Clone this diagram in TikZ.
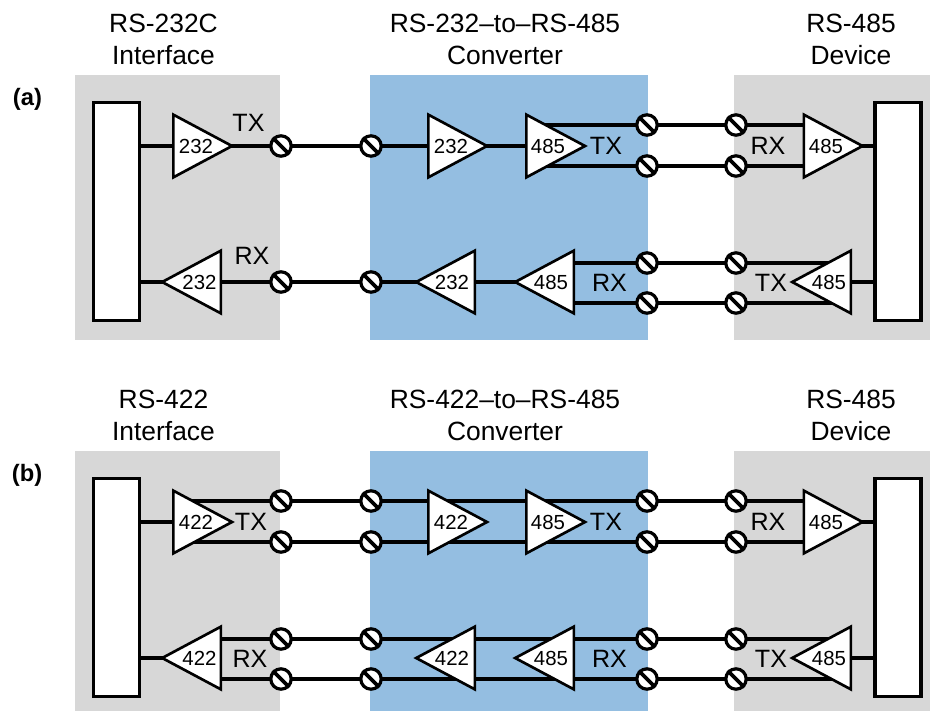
\documentclass[tikz,border=0pt]{standalone}
\usepackage{fontspec}
\setmainfont{Liberation Sans}
\usetikzlibrary{shapes.geometric}
\pgfdeclarelayer{panel}\pgfdeclarelayer{wire}
\pgfsetlayers{panel,wire,main}
\definecolor{panelgray}{HTML}{D7D7D7}
\definecolor{panelblue}{HTML}{94BEE1}
\tikzset{
  x=0.75pt,y=-0.75pt,
  grayp/.style={fill=panelgray,draw=none},
  bluep/.style={fill=panelblue,draw=none},
  endbox/.style={draw,fill=white,line width=2.5pt,rectangle,inner sep=0pt,minimum width=34.6pt,minimum height=163.5pt},
  termnode/.style={circle,draw,fill=white,line width=2.4pt,minimum size=15.3pt,inner sep=0pt},
  slash/.style={line width=2.8pt},
  wireline/.style={line width=2.5pt},
  trinode/.style={isosceles triangle,isosceles triangle stretches,draw,fill=white,line width=2pt,
    minimum width=47pt,minimum height=44pt,inner sep=0pt},
  triright/.style={trinode,shape border rotate=0,anchor=apex},
  trileft/.style={trinode,shape border rotate=180,anchor=apex},
  chip/.style={font=\fontsize{15.3}{15.3}\selectfont,inner sep=0pt},
  sig/.style={font=\fontsize{18.8}{18.8}\selectfont,inner sep=0pt},
  head/.style={font=\fontsize{19.8}{24}\selectfont,align=center,inner sep=0pt},
  tag/.style={font=\fontsize{17.8}{17.8}\selectfont\bfseries,inner sep=0pt},
}
% \term{name}{x}{y}
\newcommand{\term}[3]{\node[termnode] (#1) at (#2,#3) {};
  \draw[slash] (#1.135) -- (#1.-45);}
\begin{document}
\begin{tikzpicture}
\useasboundingbox (0,0) rectangle (930,711);
\begin{pgfonlayer}{panel}
  \fill[grayp] (75,75) rectangle (280,340);
  \fill[bluep] (370,75) rectangle (648,340);
  \fill[grayp] (734,75) rectangle (930,340);
  \fill[grayp] (75,451) rectangle (280,711);
  \fill[bluep] (370,451) rectangle (648,711);
  \fill[grayp] (734,451) rectangle (930,711);
\end{pgfonlayer}

\node[head] (h1) at (163.5,39.5) {RS-232C\\Interface};
\node[head] (h2) at (505,39.5) {RS-232–to–RS-485\\Converter};
\node[head] (h3) at (851,39.5) {RS-485\\Device};
\node[head] (h4) at (163.5,415) {RS-422\\Interface};
\node[head] (h5) at (505,415) {RS-422–to–RS-485\\Converter};
\node[head] (h6) at (851,415) {RS-485\\Device};
\node[tag] (ta) at (27.5,99) {(a)};
\node[tag] (tb) at (27,475) {(b)};

% ---------- (a)
\node[endbox] (aL) at (116.3,211.7) {};
\node[endbox] (aR) at (898,211.7) {};

\node[triright] (a1) at (235.5,146) {}; \node[chip] (a1t) at (196,146) {232};
\node[trileft]  (a2) at (158.7,282) {}; \node[chip] (a2t) at (199.5,282) {232};
\node[triright] (a3) at (490.5,146) {}; \node[chip] (a3t) at (451,146) {232};
\node[trileft]  (a4) at (412.7,282) {}; \node[chip] (a4t) at (452,282) {232};
\node[triright] (a5) at (588.5,146) {}; \node[chip] (a5t) at (548,146) {485};
\node[trileft]  (a6) at (511.7,282) {}; \node[chip] (a6t) at (551,282) {485};
\node[triright] (a7) at (866,146) {};   \node[chip] (a7t) at (826,146) {485};
\node[trileft]  (a8) at (788.7,282) {}; \node[chip] (a8t) at (829,282) {485};

\term{at1}{281}{146} \term{at2}{371}{146}
\term{at3}{281}{282} \term{at4}{371}{282}
\term{ap1}{647}{125} \term{ap2}{647}{166} \term{ap3}{647}{263} \term{ap4}{647}{303}
\term{aq1}{736}{125} \term{aq2}{736}{166} \term{aq3}{736}{263} \term{aq4}{736}{303}

\node[sig] (as1) at (248.5,122.5) {TX};
\node[sig] (as2) at (252,256) {RX};
\node[sig] (as3) at (606,146) {TX};
\node[sig] (as4) at (609.5,282.5) {RX};
\node[sig] (as5) at (768,146) {RX};
\node[sig] (as6) at (771,282.5) {TX};

\begin{pgfonlayer}{wire}
\begin{scope}[wireline]
  \draw (aL.center |- a1.center) -- (a1.center);
  \draw (a1.center) -- (at1.center) -- (at2.center) -- (a3.center);
  \draw (a3.center) -- (a5.center);
  \draw (a5.lower side |- ap1) -- (ap1.center) -- (aq1.center) -- (a7.lower side |- aq1);
  \draw (a5.lower side |- ap2) -- (ap2.center) -- (aq2.center) -- (a7.lower side |- aq2);
  \draw (a7.center) -- (aR.center |- a7.center);
  \draw (aL.center |- a2.center) -- (a2.center);
  \draw (a2.center) -- (at3.center) -- (at4.center) -- (a4.center);
  \draw (a4.center) -- (a6.center);
  \draw (a6.lower side |- ap3) -- (ap3.center) -- (aq3.center) -- (a8.lower side |- aq3);
  \draw (a6.lower side |- ap4) -- (ap4.center) -- (aq4.center) -- (a8.lower side |- aq4);
  \draw (a8.center) -- (aR.center |- a8.center);
\end{scope}
\end{pgfonlayer}

% ---------- (b)
\node[endbox] (bL) at (116.3,587.7) {};
\node[endbox] (bR) at (898,587.7) {};

\node[triright] (b1) at (235.5,522) {}; \node[chip] (b1t) at (196,522) {422};
\node[trileft]  (b2) at (158.7,658) {}; \node[chip] (b2t) at (199.5,658) {422};
\node[triright] (b3) at (490.5,522) {}; \node[chip] (b3t) at (451,522) {422};
\node[trileft]  (b4) at (412.7,658) {}; \node[chip] (b4t) at (452,658) {422};
\node[triright] (b5) at (588.5,522) {}; \node[chip] (b5t) at (548,522) {485};
\node[trileft]  (b6) at (511.7,658) {}; \node[chip] (b6t) at (551,658) {485};
\node[triright] (b7) at (866,522) {};   \node[chip] (b7t) at (826,522) {485};
\node[trileft]  (b8) at (788.7,658) {}; \node[chip] (b8t) at (829,658) {485};

\term{bs1}{281}{501} \term{bs2}{281}{542} \term{bs3}{281}{639} \term{bs4}{281}{679}
\term{bu1}{371}{501} \term{bu2}{371}{542} \term{bu3}{371}{639} \term{bu4}{371}{679}
\term{bp1}{647}{501} \term{bp2}{647}{542} \term{bp3}{647}{639} \term{bp4}{647}{679}
\term{bq1}{736}{501} \term{bq2}{736}{542} \term{bq3}{736}{639} \term{bq4}{736}{679}

\node[sig] (bs5) at (251,522) {TX};
\node[sig] (bs6) at (250,659) {RX};
\node[sig] (bs7) at (606,522) {TX};
\node[sig] (bs8) at (768,522) {RX};
\node[sig] (bs9) at (609.5,659) {RX};
\node[sig] (bs10) at (771,659) {TX};

\begin{pgfonlayer}{wire}
\begin{scope}[wireline]
  \draw (bL.center |- b1.center) -- (b1.center);
  \draw (b1.lower side |- bs1) -- (bs1.center) -- (bu1.center) -- (bp1.center) -- (bq1.center) -- (b7.lower side |- bq1);
  \draw (b1.lower side |- bs2) -- (bs2.center) -- (bu2.center) -- (bp2.center) -- (bq2.center) -- (b7.lower side |- bq2);
  \draw (b7.center) -- (bR.center |- b7.center);
  \draw (bL.center |- b2.center) -- (b2.center);
  \draw (b2.lower side |- bs3) -- (bs3.center) -- (bu3.center) -- (bp3.center) -- (bq3.center) -- (b8.lower side |- bq3);
  \draw (b2.lower side |- bs4) -- (bs4.center) -- (bu4.center) -- (bp4.center) -- (bq4.center) -- (b8.lower side |- bq4);
  \draw (b8.center) -- (bR.center |- b8.center);
\end{scope}
\end{pgfonlayer}
\end{tikzpicture}
\end{document}
